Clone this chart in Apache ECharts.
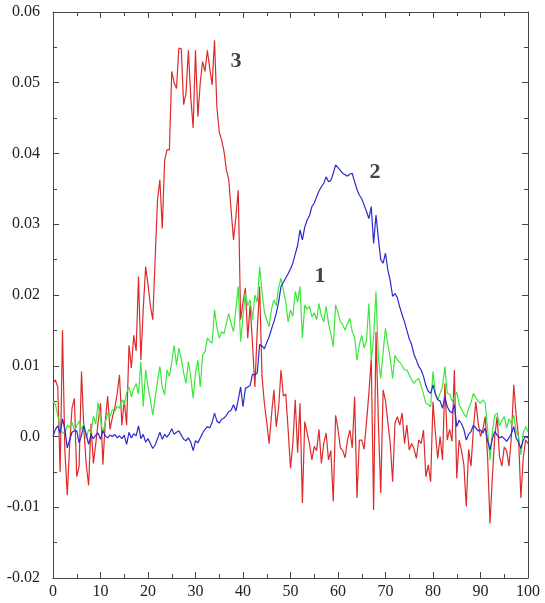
<!DOCTYPE html>
<html>
<head>
<meta charset="utf-8">
<script src="https://cdn.jsdelivr.net/npm/echarts@6/dist/echarts.min.js"></script>
<style>
  html, body { margin: 0; padding: 0; background: #fff; }
  #main { width: 545px; height: 603px; }
</style>
</head>
<body>
<div id="main"></div>
<script>
// samples every 0.5 on x, 0..100
var step = 0.5;

// curve 1 (green)
var curve1 = [
  0.0050, 0.0045, 0.0030, 0.0012, 0.0005, 0.0005, 0.0016, 0.0013, 0.0020, 0.0009,
  0.0015, 0.0022, 0.0010, 0.0018, -0.0003, 0.0010, 0.0005, 0.0029, 0.0018, 0.0048,
  0.0023, 0.0005, 0.0020, 0.0033, 0.0028, 0.0038, 0.0035, 0.0043, 0.0040, 0.0052,
  0.0045, 0.0062, 0.0070, 0.0056, 0.0068, 0.0075, 0.0060, 0.0106, 0.0042, 0.0094,
  0.0070, 0.0052, 0.0030, 0.0055, 0.0078, 0.0099, 0.0070, 0.0059, 0.0094, 0.0085,
  0.0105, 0.0129, 0.0101, 0.0125, 0.0110, 0.0090, 0.0075, 0.0106, 0.0085, 0.0054,
  0.0090, 0.0108, 0.0070, 0.0115, 0.0120, 0.0139, 0.0135, 0.0132, 0.0179, 0.0155,
  0.0139, 0.0148, 0.0145, 0.0160, 0.0174, 0.0160, 0.0148, 0.0180, 0.0212, 0.0134,
  0.0170, 0.0203, 0.0185, 0.0193, 0.0165, 0.0200, 0.0190, 0.0240, 0.0205, 0.0176,
  0.0165, 0.0155, 0.0180, 0.0193, 0.0185, 0.0210, 0.0224, 0.0207, 0.0190, 0.0162,
  0.0179, 0.0170, 0.0205, 0.0190, 0.0212, 0.0139, 0.0186, 0.0180, 0.0184, 0.0169,
  0.0175, 0.0165, 0.0188, 0.0170, 0.0162, 0.0184, 0.0160, 0.0145, 0.0127, 0.0186,
  0.0175, 0.0162, 0.0158, 0.0150, 0.0160, 0.0167, 0.0148, 0.0140, 0.0108, 0.0130,
  0.0143, 0.0125, 0.0136, 0.0188, 0.0108, 0.0140, 0.0205, 0.0110, 0.0082, 0.0120,
  0.0153, 0.0130, 0.0110, 0.0082, 0.0115, 0.0108, 0.0105, 0.0100, 0.0094, 0.0094,
  0.0087, 0.0080, 0.0075, 0.0080, 0.0082, 0.0072, 0.0060, 0.0047, 0.0045, 0.0042,
  0.0092, 0.0060, 0.0052, 0.0061, 0.0070, 0.0099, 0.0061, 0.0060, 0.0050, 0.0055,
  0.0063, 0.0045, 0.0039, 0.0032, 0.0027, 0.0040, 0.0048, 0.0061, 0.0055, 0.0050,
  0.0047, 0.0052, 0.0047, 0.0010, -0.0033, 0.0007, 0.0030, 0.0033, 0.0015, 0.0023,
  0.0028, 0.0012, 0.0025, 0.0018, 0.0030, 0.0007, 0.0000, -0.0026, 0.0005, 0.0014,
  0.0007
];

// curve 2 (blue)
var curve2 = [
  0.0000, 0.0010, 0.0015, 0.0005, 0.0025, 0.0010, -0.0016, -0.0005, 0.0006, 0.0008,
  0.0008, -0.0009, 0.0002, 0.0015, 0.0003, -0.0011, 0.0002, -0.0003, 0.0002, 0.0005,
  -0.0004, 0.0008, 0.0001, -0.0002, 0.0002, 0.0000, 0.0003, -0.0002, 0.0001, -0.0003,
  0.0002, -0.0011, 0.0006, -0.0002, 0.0004, 0.0001, 0.0015, -0.0003, 0.0003, -0.0008,
  -0.0003, -0.0010, -0.0017, -0.0012, -0.0003, 0.0006, -0.0004, 0.0003, -0.0001, 0.0004,
  0.0011, 0.0003, 0.0006, 0.0008, 0.0002, -0.0004, -0.0006, -0.0002, -0.0008, -0.0020,
  -0.0006, -0.0009, -0.0002, 0.0005, 0.0010, 0.0014, 0.0012, 0.0020, 0.0033, 0.0022,
  0.0019, 0.0024, 0.0026, 0.0030, 0.0035, 0.0037, 0.0045, 0.0036, 0.0052, 0.0070,
  0.0042, 0.0068, 0.0070, 0.0072, 0.0088, 0.0087, 0.0090, 0.0130, 0.0128, 0.0124,
  0.0133, 0.0141, 0.0152, 0.0162, 0.0174, 0.0190, 0.0212, 0.0218, 0.0224, 0.0230,
  0.0237, 0.0245, 0.0258, 0.0270, 0.0292, 0.0278, 0.0296, 0.0306, 0.0312, 0.0325,
  0.0330, 0.0339, 0.0347, 0.0353, 0.0358, 0.0367, 0.0360, 0.0362, 0.0372, 0.0384,
  0.0380, 0.0376, 0.0372, 0.0370, 0.0368, 0.0371, 0.0372, 0.0360, 0.0349, 0.0341,
  0.0336, 0.0327, 0.0318, 0.0308, 0.0325, 0.0273, 0.0313, 0.0280, 0.0250, 0.0245,
  0.0259, 0.0235, 0.0220, 0.0198, 0.0202, 0.0196, 0.0183, 0.0172, 0.0162, 0.0150,
  0.0138, 0.0130, 0.0116, 0.0108, 0.0099, 0.0094, 0.0085, 0.0072, 0.0064, 0.0061,
  0.0073, 0.0060, 0.0052, 0.0050, 0.0040, 0.0056, 0.0042, 0.0036, 0.0033, 0.0045,
  0.0014, 0.0023, 0.0018, 0.0010, -0.0005, 0.0003, 0.0007, 0.0016, 0.0012, 0.0008,
  0.0009, 0.0005, 0.0012, -0.0006, -0.0019, -0.0003, 0.0007, 0.0002, -0.0002, 0.0000,
  -0.0003, -0.0007, -0.0002, 0.0004, 0.0014, -0.0002, -0.0008, -0.0017, -0.0005, 0.0000,
  -0.0002
];

// curve 3 (red)
var curve3 = [
  0.0075, 0.0080, 0.0070, -0.0050, 0.0150, -0.0020, -0.0083, -0.0013, 0.0040, 0.0054,
  -0.0057, -0.0042, 0.0092, 0.0010, -0.0040, -0.0069, 0.0018, -0.0038, -0.0010, 0.0020,
  0.0047, -0.0040, 0.0020, 0.0057, 0.0010, 0.0027, 0.0040, 0.0060, 0.0087, 0.0016,
  0.0051, 0.0016, 0.0129, 0.0097, 0.0143, 0.0121, 0.0226, 0.0108, 0.0180, 0.0240,
  0.0215, 0.0185, 0.0165, 0.0250, 0.0334, 0.0363, 0.0294, 0.0390, 0.0405, 0.0405,
  0.0516, 0.0500, 0.0492, 0.0549, 0.0548, 0.0469, 0.0485, 0.0546, 0.0480, 0.0436,
  0.0546, 0.0452, 0.0500, 0.0530, 0.0516, 0.0546, 0.0520, 0.0497, 0.0560, 0.0466,
  0.0430, 0.0419, 0.0403, 0.0377, 0.0363, 0.0320, 0.0278, 0.0310, 0.0348, 0.0165,
  0.0190, 0.0210, 0.0139, 0.0186, 0.0130, 0.0070, 0.0150, 0.0212, 0.0085, 0.0047,
  0.0020, -0.0010, 0.0030, 0.0066, 0.0014, 0.0040, 0.0094, 0.0057, 0.0060, 0.0010,
  -0.0045, -0.0009, 0.0052, -0.0023, 0.0047, -0.0094, 0.0021, 0.0005, -0.0010, -0.0033,
  -0.0014, -0.0020, 0.0010, -0.0038, -0.0010, 0.0005, -0.0033, -0.0020, -0.0092, 0.0030,
  0.0010, -0.0016, -0.0020, -0.0030, -0.0005, 0.0009, -0.0016, 0.0056, -0.0087, -0.0005,
  -0.0005, -0.0018, 0.0020, 0.0061, 0.0110, -0.0104, 0.0148, 0.0020, -0.0080, 0.0066,
  0.0050, 0.0020, -0.0010, -0.0064, 0.0019, 0.0028, 0.0016, 0.0033, -0.0010, 0.0016,
  -0.0019, -0.0010, -0.0017, -0.0031, -0.0005, -0.0010, 0.0009, -0.0057, -0.0040, -0.0064,
  0.0049, 0.0005, -0.0031, 0.0000, -0.0033, 0.0075, -0.0005, 0.0010, -0.0007, 0.0094,
  -0.0059, -0.0005, -0.0020, -0.0040, -0.0099, -0.0018, -0.0042, 0.0010, 0.0049, 0.0020,
  0.0000, 0.0010, 0.0028, -0.0030, -0.0123, -0.0057, 0.0000, 0.0028, -0.0028, -0.0042,
  -0.0015, -0.0020, -0.0042, 0.0000, 0.0073, 0.0030, 0.0000, -0.0087, -0.0030, -0.0005,
  -0.0010
];

// curve labels
var tagNames = ['1', '2', '3'];
var tagX = [56.2, 67.8, 38.5];
var tagY = [0.0227, 0.0374, 0.0531];

function pairs(arr) {
  return arr.map(function (v, i) { return [i * step, v]; });
}

var font = 'Liberation Serif';
var axisCol = '#444';

function xAx(pos, showLabel) {
  return {
    type: 'value', position: pos, min: 0, max: 100, interval: 10,
    axisLine: { show: true, onZero: false, lineStyle: { color: axisCol, width: 1 } },
    axisTick: { show: true, inside: true, length: 6, lineStyle: { color: axisCol } },
    minorTick: { show: true, splitNumber: 2, length: 4, lineStyle: { color: axisCol } },
    axisLabel: { show: showLabel, margin: 6, fontFamily: font, fontSize: 16, color: '#222' },
    splitLine: { show: false }
  };
}
function yAx(pos, showLabel) {
  return {
    type: 'value', position: pos, min: -0.02, max: 0.06, interval: 0.01,
    axisLine: { show: true, onZero: false, lineStyle: { color: axisCol, width: 1 } },
    axisTick: { show: true, inside: true, length: 6, lineStyle: { color: axisCol } },
    minorTick: { show: true, splitNumber: 2, length: 4, lineStyle: { color: axisCol } },
    axisLabel: {
      show: showLabel, margin: 13, fontFamily: font, fontSize: 16, color: '#222',
      formatter: function (v) {
        var r = Math.round(v * 100) / 100;
        return r === 0 ? '0.0' : r.toFixed(2);
      }
    },
    splitLine: { show: false }
  };
}

function lineSeries(name, arr, color) {
  return {
    name: name, type: 'line', data: pairs(arr), showSymbol: false,
    symbol: 'none', animation: false,
    lineStyle: { color: color, width: 1.2 }
  };
}

var chart = echarts.init(document.getElementById('main'));
chart.setOption({
  backgroundColor: '#fff',
  animation: false,
  grid: { left: 53, right: 17, top: 12, bottom: 25 },
  xAxis: [xAx('bottom', true), xAx('top', false)],
  yAxis: [yAx('left', true), yAx('right', false)],
  series: [
    lineSeries('3', curve3, '#dd2a2a'),
    lineSeries('1', curve1, '#3de63d'),
    lineSeries('2', curve2, '#2a2ad0'),
    {
      type: 'scatter', symbolSize: 0, animation: false, silent: true,
      data: tagNames.map(function (n, i) { return { name: n, value: [tagX[i], tagY[i]] }; }),
      label: {
        show: true, position: 'inside', formatter: '{b}',
        fontFamily: font, fontSize: 22, fontWeight: 'bold', color: '#111'
      }
    }
  ]
});
</script>
</body>
</html>
